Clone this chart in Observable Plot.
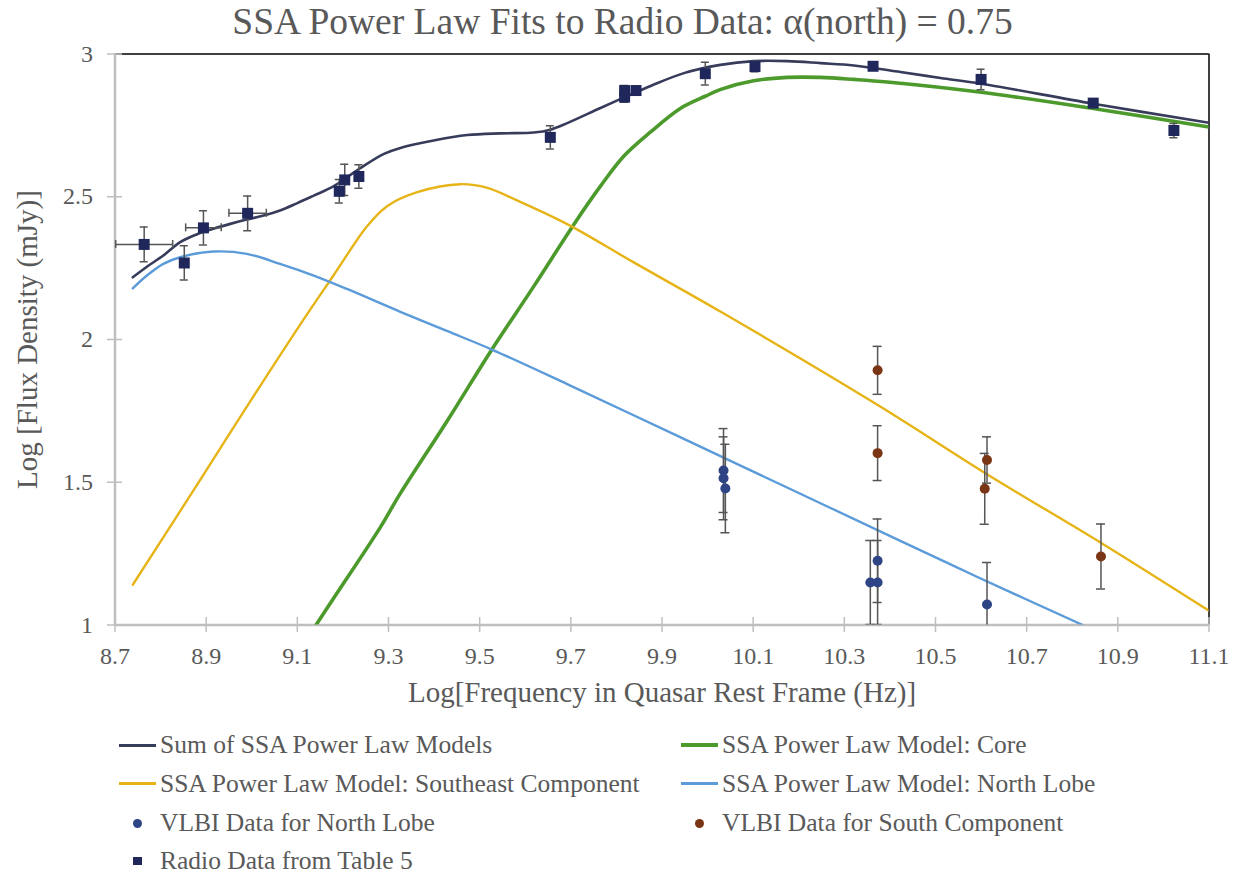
<!DOCTYPE html>
<html><head><meta charset="utf-8">
<script src="https://cdn.jsdelivr.net/npm/d3@7"></script>
<script src="https://cdn.jsdelivr.net/npm/@observablehq/plot@0.6"></script>
<style>
body{margin:0;background:#fff;font-family:"Liberation Serif","Times New Roman",serif;color:#595959;}
#wrap{position:relative;width:1245px;height:875px;overflow:hidden;}
#title{position:absolute;left:0;top:0;width:1245px;height:44px;line-height:44px;text-align:center;font-size:37.5px;}
#chart{position:absolute;left:0;top:44px;}
#chart svg, #chart svg text, #chart svg g{font-family:"Liberation Serif","Times New Roman",serif !important;}
.leg{position:absolute;font-size:25.5px;height:38px;line-height:38px;white-space:nowrap;display:flex;align-items:center;}
.sw{display:inline-flex;width:37px;height:38px;align-items:center;justify-content:center;margin-right:4px;}
</style></head>
<body><div id="wrap"><div id="title">SSA Power Law Fits to Radio Data: α(north) = 0.75</div><div id="chart"></div><div id="legend"></div></div>
<script>
// ---- axis ticks ----
const xTicks = [8.7, 8.9, 9.1, 9.3, 9.5, 9.7, 9.9, 10.1, 10.3, 10.5, 10.7, 10.9, 11.1];
const yTicks = [1, 1.5, 2, 2.5, 3];

// ---- Radio Data from Table 5 ----
const radioFreq    = [8.764, 8.852, 8.894, 8.991, 9.192, 9.204, 9.235, 9.655, 9.818, 9.818, 9.843, 9.995, 10.104, 10.363, 10.600, 10.846, 11.023];
const radioFlux    = [2.333, 2.268, 2.391, 2.442, 2.519, 2.559, 2.571, 2.708, 2.872, 2.849, 2.872, 2.931, 2.956, 2.957, 2.911, 2.828, 2.732];
const radioFluxErr = [0.061, 0.060, 0.060, 0.061, 0.041, 0.055, 0.041, 0.041, 0.018, 0.018, 0.015, 0.040, 0.018, 0.008, 0.036, 0.015, 0.025];
const radioFreqErr = [0.0625, 0, 0.039, 0.041, 0, 0, 0, 0, 0, 0, 0, 0, 0, 0, 0, 0, 0];

// ---- VLBI Data for North Lobe ----
const northFreq = [10.035, 10.035, 10.039, 10.357, 10.373, 10.373, 10.613];
const northFlux = [1.541, 1.514, 1.478, 1.149, 1.149, 1.225, 1.072];
const northErr  = [0.147, 0.145, 0.155, 0.147, 0.147, 0.146, 0.147];

// ---- VLBI Data for South Component ----
const southFreq = [10.373, 10.373, 10.613, 10.608, 10.863];
const southFlux = [1.892, 1.602, 1.578, 1.477, 1.240];
const southErr  = [0.084, 0.096, 0.081, 0.124, 0.114];

// ---- Sum of SSA Power Law Models ----
const sumFreq = [8.739, 8.770, 8.806, 8.843, 8.879, 8.916, 8.953, 8.989, 9.026, 9.062, 9.099, 9.136, 9.180, 9.239, 9.290, 9.326, 9.399, 9.473, 9.546, 9.619, 9.655, 9.692, 9.765, 9.820, 9.875, 9.948, 10.028, 10.101, 10.175, 10.248, 10.321, 10.423, 10.511, 10.600, 10.846, 11.100];
const sumFlux = [2.218, 2.255, 2.294, 2.341, 2.368, 2.388, 2.405, 2.420, 2.434, 2.452, 2.477, 2.504, 2.537, 2.601, 2.650, 2.671, 2.697, 2.716, 2.722, 2.725, 2.735, 2.758, 2.811, 2.850, 2.888, 2.933, 2.962, 2.975, 2.975, 2.968, 2.960, 2.937, 2.916, 2.896, 2.826, 2.759];

// ---- SSA Power Law Model: Core ----
const coreFreq = [9.141, 9.176, 9.282, 9.326, 9.428, 9.524, 9.619, 9.707, 9.765, 9.816, 9.875, 9.941, 9.995, 10.029, 10.101, 10.175, 10.248, 10.321, 10.394, 10.600, 10.846, 11.100];
const coreFlux = [1.000, 1.085, 1.342, 1.461, 1.713, 1.958, 2.187, 2.404, 2.537, 2.642, 2.727, 2.810, 2.852, 2.876, 2.906, 2.918, 2.918, 2.911, 2.902, 2.866, 2.809, 2.744];

// ---- SSA Power Law Model: Southeast Component ----
const seFreq = [8.739, 8.888, 8.997, 9.107, 9.180, 9.253, 9.297, 9.363, 9.458, 9.517, 9.582, 9.692, 9.838, 10.028, 10.376, 10.612, 10.867, 11.100];
const seFlux = [1.141, 1.511, 1.784, 2.054, 2.226, 2.397, 2.467, 2.516, 2.544, 2.531, 2.487, 2.404, 2.270, 2.098, 1.768, 1.529, 1.284, 1.050];

// ---- SSA Power Law Model: North Lobe ----
const nlFreq = [8.739, 8.770, 8.806, 8.843, 8.916, 8.989, 9.062, 9.136, 9.209, 9.326, 9.428, 9.528, 9.692, 9.941, 10.179, 10.424, 10.599, 10.823];
const nlFlux = [2.179, 2.224, 2.265, 2.288, 2.308, 2.300, 2.265, 2.224, 2.177, 2.097, 2.030, 1.964, 1.844, 1.657, 1.478, 1.294, 1.163, 1.000];

// ---- legend ----
const legendLabels = ["Sum of SSA Power Law Models", "SSA Power Law Model: Core", "SSA Power Law Model: Southeast Component", "SSA Power Law Model: North Lobe", "VLBI Data for North Lobe", "VLBI Data for South Component", "Radio Data from Table 5"];

const C = {sum: "#373c5b", core: "#4c9a2c", se: "#e6b417", nl: "#5b9bd9", north: "#2f4485", south: "#7a3514", radio: "#1f275b", err: "#555555", axis: "#bfbfbf"};

const pts = (fx, fy) => fx.map((f, i) => ({f, v: fy[i]}));
const radio = radioFreq.map((f, i) => ({f, v: radioFlux[i], e: radioFluxErr[i], fe: radioFreqErr[i]}));
const radioH = radio.filter(d => d.fe > 0);
const north = northFreq.map((f, i) => ({f, v: northFlux[i], e: northErr[i]}));
const south = southFreq.map((f, i) => ({f, v: southFlux[i], e: southErr[i]}));

const errMarks = (data, cap) => [
  Plot.ruleX(data, {x: "f", y1: d => d.v - d.e, y2: d => d.v + d.e, stroke: C.err, strokeWidth: 1.5, clip: true}),
  Plot.ruleY(data, {y: d => d.v + d.e, x1: "f", x2: "f", insetLeft: -cap, insetRight: -cap, stroke: C.err, strokeWidth: 1.5, clip: true}),
  Plot.ruleY(data, {y: d => d.v - d.e, x1: "f", x2: "f", insetLeft: -cap, insetRight: -cap, stroke: C.err, strokeWidth: 1.5, clip: true})
];

const plot = Plot.plot({
  width: 1245, height: 676,
  marginTop: 9.5, marginLeft: 114.5, marginRight: 36.5, marginBottom: 95.5,
  style: {fontFamily: "'Liberation Serif', 'Times New Roman', serif", fontSize: "24px", color: "#595959", background: "white", overflow: "visible"},
  x: {domain: [8.7, 11.1], ticks: xTicks, tickFormat: d => String(d), tickSize: 0, tickPadding: 22, label: null},
  y: {domain: [1, 3], ticks: yTicks, tickFormat: d => String(d), tickSize: 0, tickPadding: 22, label: null},
  marks: [
    Plot.ruleY([3], {stroke: "#000", strokeWidth: 1.3}),
    Plot.ruleX([11.1], {stroke: "#000", strokeWidth: 1.5}),
    Plot.ruleY([1], {stroke: C.axis, strokeWidth: 2.5}),
    Plot.ruleX([8.7], {stroke: C.axis, strokeWidth: 2.5}),
    Plot.ruleX(xTicks, {x: d => d, y1: () => 1, y2: () => 1, insetTop: -7.5, insetBottom: -7.5, stroke: C.axis, strokeWidth: 1.5}),
    Plot.ruleY(yTicks, {y: d => d, x1: () => 8.7, x2: () => 8.7, insetLeft: -7.5, insetRight: -7.5, stroke: C.axis, strokeWidth: 1.5}),
    Plot.line(pts(sumFreq, sumFlux), {x: "f", y: "v", stroke: C.sum, strokeWidth: 2.6, curve: "catmull-rom", clip: true}),
    Plot.line(pts(coreFreq, coreFlux), {x: "f", y: "v", stroke: C.core, strokeWidth: 3.6, curve: "catmull-rom", clip: true}),
    Plot.line(pts(seFreq, seFlux), {x: "f", y: "v", stroke: C.se, strokeWidth: 2.4, curve: "catmull-rom", clip: true}),
    Plot.line(pts(nlFreq, nlFlux), {x: "f", y: "v", stroke: C.nl, strokeWidth: 2.4, curve: "catmull-rom", clip: true}),
    ...errMarks(north, 4.5),
    Plot.dot(north, {x: "f", y: "v", r: 5, fill: C.north}),
    ...errMarks(south, 4.5),
    Plot.dot(south, {x: "f", y: "v", r: 5, fill: C.south}),
    ...errMarks(radio, 4),
    Plot.ruleY(radioH, {y: "v", x1: d => d.f - d.fe, x2: d => d.f + d.fe, stroke: C.err, strokeWidth: 1.5}),
    Plot.ruleX(radioH, {x: d => d.f - d.fe, y1: "v", y2: "v", insetTop: -4, insetBottom: -4, stroke: C.err, strokeWidth: 1.5}),
    Plot.ruleX(radioH, {x: d => d.f + d.fe, y1: "v", y2: "v", insetTop: -4, insetBottom: -4, stroke: C.err, strokeWidth: 1.5}),
    Plot.dot(radio, {x: "f", y: "v", r: 6.2, symbol: "square", fill: C.radio}),
    Plot.text(["Log[Frequency in Quasar Rest Frame (Hz)]"], {frameAnchor: "bottom", dy: 68, fontSize: 29, fill: "#595959", lineAnchor: "middle"}),
    Plot.text(["Log [Flux Density (mJy)]"], {frameAnchor: "left", dx: -87.5, rotate: -90, fontSize: 29, fill: "#595959", lineAnchor: "middle", textAnchor: "middle"})
  ]
});
document.getElementById("chart").appendChild(plot);

// legend (HTML)
const legend = document.getElementById("legend");
const legItems = [
  {label: legendLabels[0], kind: "line", color: C.sum, w: 3, col: 0, row: 0},
  {label: legendLabels[1], kind: "line", color: C.core, w: 4.5, col: 1, row: 0},
  {label: legendLabels[2], kind: "line", color: C.se, w: 3, col: 0, row: 1},
  {label: legendLabels[3], kind: "line", color: C.nl, w: 3, col: 1, row: 1},
  {label: legendLabels[4], kind: "circle", color: C.north, col: 0, row: 2},
  {label: legendLabels[5], kind: "circle", color: C.south, col: 1, row: 2},
  {label: legendLabels[6], kind: "square", color: C.radio, col: 0, row: 3}
];
const colX = [119, 681];
const rowY = [745, 783.5, 823, 861];
for (const it of legItems) {
  const div = document.createElement("div");
  div.className = "leg";
  div.style.left = colX[it.col] + "px";
  div.style.top = (rowY[it.row] - 19) + "px";
  const sw = document.createElement("span");
  sw.className = "sw";
  const shape = document.createElement("span");
  shape.style.display = "block";
  shape.style.background = it.color;
  if (it.kind === "line") { shape.style.width = "37px"; shape.style.height = it.w + "px"; }
  else if (it.kind === "circle") { shape.style.width = "9px"; shape.style.height = "9px"; shape.style.borderRadius = "50%"; }
  else { shape.style.width = "8.5px"; shape.style.height = "8.5px"; }
  sw.appendChild(shape);
  div.appendChild(sw);
  const t = document.createElement("span");
  t.textContent = it.label;
  div.appendChild(t);
  legend.appendChild(div);
}
</script>
</body></html>
